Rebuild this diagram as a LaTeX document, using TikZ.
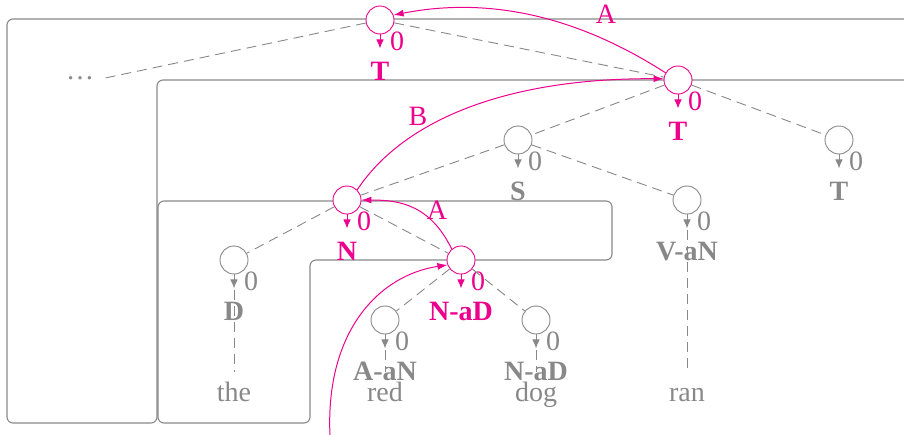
\documentclass[tikz,border=0pt]{standalone}
\usepackage{fontspec}
\setmainfont{Liberation Serif}
\usetikzlibrary{arrows.meta,calc}
\definecolor{mag}{RGB}{236,0,140}
\definecolor{gr}{RGB}{136,136,136}
\newcommand\tnode[5]{%
  \node[circ,draw=#4] (#1) at (#2,#3) {};
  \draw[downarr,draw=#4,fill=#4] (#1.south) -- ++(0,14);
  \node[zero,text=#4] (#1z) at (#2+17,#3+30) {0};
  \node[cat,text=#4] (#1c) at (#2,#3+60) {\textbf{#5}};
}
\begin{document}
\begin{tikzpicture}[x=1pt,y=-1pt,
  circ/.style={circle,minimum size=28pt,inner sep=0pt,line width=0.9pt,fill=white},
  downarr/.style={line width=0.9pt,-{Latex[length=9pt,width=7.5pt]}},
  zero/.style={anchor=base,inner sep=0pt,font=\fontsize{28}{30}\selectfont},
  cat/.style={anchor=base,inner sep=0pt,font=\fontsize{28}{30}\selectfont},
  word/.style={anchor=base,inner sep=0pt,text=gr,font=\fontsize{28}{30}\selectfont},
  arclab/.style={anchor=base,inner sep=0pt,text=mag,font=\fontsize{28}{30}\selectfont},
  boxline/.style={draw=gr,line width=1.1pt,rounded corners=6pt},
  edge/.style={draw=gr,line width=0.9pt,dash pattern=on 10pt off 6pt},
  marc/.style={draw=mag,line width=1pt,-{Latex[length=10pt,width=7pt]}}]
\useasboundingbox (0,0) rectangle (904,434);
% boxes
\draw[boxline] (910,19) -- (7,19) -- (7,423) -- (157,423) -- (157,80) -- (910,80);
\draw[boxline] (400,201) -- (612,201) -- (612,260) -- (310,260) -- (310,423) -- (158,423) -- (158,201) -- cycle;
% nodes
\tnode{tA}{380}{20}{mag}{T}
\tnode{tB}{678}{80}{mag}{T}
\tnode{s}{518}{140}{gr}{S}
\tnode{tC}{839}{140}{gr}{T}
\tnode{v}{687}{200}{gr}{V-aN}
\tnode{n}{347}{200}{mag}{N}
\tnode{d}{234}{260}{gr}{D}
\tnode{nad}{461}{260}{mag}{N-aD}
\tnode{aan}{385}{320}{gr}{A-aN}
\tnode{nadb}{536}{320}{gr}{N-aD}
\node[text=gr,font=\fontsize{28}{30}\selectfont,inner sep=0pt,minimum width=50pt] (dots) at (80,78) {\ldots};
% words
\node[word] (the) at (234,401) {the};
\node[word] (red) at (385,401) {red};
\node[word] (dog) at (536,401) {dog};
\node[word] (ran) at (687,401) {ran};
% tree edges
\draw[edge] (tA) -- (dots.east);
\draw[edge] (tA) -- (tB);
\draw[edge] (tB) -- (s);
\draw[edge] (tB) -- (tC);
\draw[edge] (s) -- (n);
\draw[edge] (s) -- (v);
\draw[edge] (n) -- (d);
\draw[edge] (n) -- (nad);
\draw[edge] (nad) -- (aan);
\draw[edge] (nad) -- (nadb);
% leaf edges
\draw[edge] ($(d.south)+(0,16)$) -- ($(the.base)+(0,-29)$);
\draw[edge] ($(aan.south)+(0,16)$) -- ($(red.base)+(0,-29)$);
\draw[edge] ($(nadb.south)+(0,16)$) -- ($(dog.base)+(0,-29)$);
\draw[edge] ($(v.south)+(0,16)$) -- ($(ran.base)+(0,-29)$);
% magenta arcs
\draw[marc] (tB.150) .. controls (560,5) and (470,0) .. (tA.20);
\node[arclab] (labA1) at (606,23) {A};
\draw[marc] (n.45) .. controls (405,118) and (510,78) .. (tB.175);
\node[arclab] (labB) at (418,125) {B};
\draw[marc] (nad.130) .. controls (430,205) and (400,200) .. (n.0);
\node[arclab] (labA2) at (437,219) {A};
\coordinate (inc) at (330,436);
\draw[marc] (inc) .. controls (325,330) and (380,275) .. (nad.200);
\end{tikzpicture}
\end{document}
